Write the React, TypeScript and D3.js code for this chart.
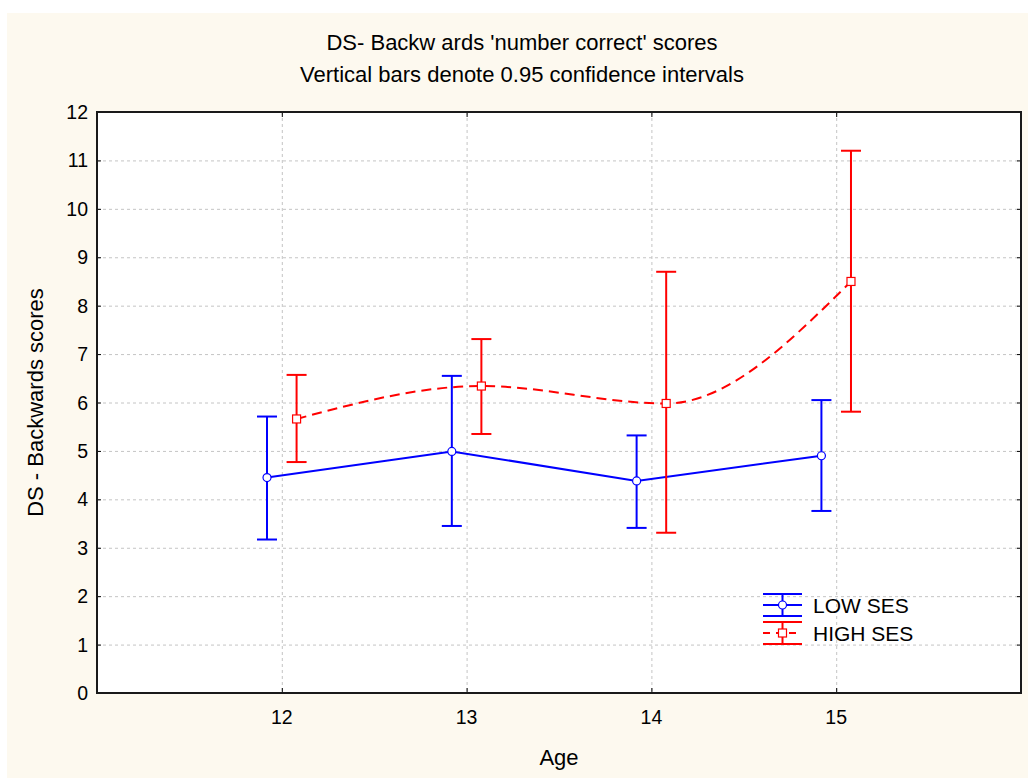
import React, { useEffect, useRef } from "react";
import * as d3 from "d3";

const ages = [12, 13, 14, 15];
const lowMean = [4.45, 4.99, 4.38, 4.9];
const lowLower = [3.17, 3.45, 3.41, 3.76];
const lowUpper = [5.71, 6.55, 5.32, 6.05];
const highMean = [5.66, 6.34, 5.98, 8.5];
const highLower = [4.77, 5.35, 3.31, 5.81];
const highUpper = [6.57, 7.31, 8.7, 11.2];
const yTicks = [0, 1, 2, 3, 4, 5, 6, 7, 8, 9, 10, 11, 12];

const FONT = "'Liberation Sans', Arial, sans-serif";

export default function App() {
  const ref = useRef<SVGSVGElement | null>(null);

  useEffect(() => {
    if (!ref.current) return;
    const W = 1028;
    const H = 778;
    const left = 97, right = 1021, top = 112, bottom = 693;

    const svg = d3.select(ref.current);
    svg.selectAll("*").remove();
    svg.attr("width", W).attr("height", H);

    // background
    svg.append("rect").attr("width", W).attr("height", H).attr("fill", "#ffffff");
    svg.append("rect").attr("x", 7).attr("y", 13).attr("width", W - 7).attr("height", H - 13).attr("fill", "#fdf9ef");
    svg.append("rect").attr("x", left).attr("y", top).attr("width", right - left).attr("height", bottom - top).attr("fill", "#ffffff");

    const x = d3.scaleLinear().domain([11, 16]).range([left, right]);
    const y = d3.scaleLinear().domain([0, 12]).range([bottom, top]);
    const off = 0.08;

    // grid
    const grid = svg.append("g").attr("stroke", "#c4c4c4").attr("stroke-width", 1).attr("stroke-dasharray", "3,3");
    grid.selectAll("line.h").data(yTicks.slice(1, -1)).enter().append("line")
      .attr("x1", left).attr("x2", right)
      .attr("y1", d => y(d) + 0.5).attr("y2", d => y(d) + 0.5);
    grid.selectAll("line.v").data(ages).enter().append("line")
      .attr("y1", top).attr("y2", bottom)
      .attr("x1", d => x(d) + 0.5).attr("x2", d => x(d) + 0.5);

    // axes (inward ticks on all sides)
    const axL = svg.append("g").attr("transform", `translate(${left},0)`).call(d3.axisRight(y).tickValues(yTicks).tickSize(4).tickFormat(() => ""));
    const axR = svg.append("g").attr("transform", `translate(${right},0)`).call(d3.axisLeft(y).tickValues(yTicks).tickSize(4).tickFormat(() => ""));
    const axB = svg.append("g").attr("transform", `translate(0,${bottom})`).call(d3.axisTop(x).tickValues(ages).tickSize(5).tickFormat(() => ""));
    const axT = svg.append("g").attr("transform", `translate(0,${top})`).call(d3.axisBottom(x).tickValues(ages).tickSize(5).tickFormat(() => ""));
    [axL, axR, axB, axT].forEach(a => {
      a.select(".domain").remove();
      a.selectAll("line").attr("stroke", "#000");
    });

    svg.append("rect").attr("x", left).attr("y", top).attr("width", right - left).attr("height", bottom - top)
      .attr("fill", "none").attr("stroke", "#1a1a1a").attr("stroke-width", 2);

    // tick labels
    svg.append("g").selectAll("text").data(yTicks).enter().append("text")
      .attr("x", 88).attr("y", d => y(d)).attr("dy", "0.36em")
      .attr("text-anchor", "end").attr("font-family", FONT).attr("font-size", 19.5)
      .text(d => d);
    svg.append("g").selectAll("text").data(ages).enter().append("text")
      .attr("x", d => x(d)).attr("y", 724)
      .attr("text-anchor", "middle").attr("font-family", FONT).attr("font-size", 19.5)
      .text(d => d);

    // titles
    svg.append("text").attr("x", 522).attr("y", 50).attr("text-anchor", "middle")
      .attr("font-family", FONT).attr("font-size", 22)
      .text("DS- Backw ards 'number correct' scores");
    svg.append("text").attr("x", 522).attr("y", 82).attr("text-anchor", "middle")
      .attr("font-family", FONT).attr("font-size", 22)
      .text("Vertical bars denote 0.95 confidence intervals");
    svg.append("text").attr("x", (left + right) / 2).attr("y", 765).attr("text-anchor", "middle")
      .attr("font-family", FONT).attr("font-size", 22).text("Age");
    svg.append("text").attr("transform", `translate(43,${(top + bottom) / 2}) rotate(-90)`)
      .attr("text-anchor", "middle").attr("font-family", FONT).attr("font-size", 22)
      .text("DS - Backwards scores");

    const series = [
      { name: "LOW SES", color: "#0000ff", shift: -off, mean: lowMean, lo: lowLower, hi: lowUpper, dash: null, curve: d3.curveLinear, marker: "circle" },
      { name: "HIGH SES", color: "#ff0000", shift: off, mean: highMean, lo: highLower, hi: highUpper, dash: "10,6", curve: d3.curveMonotoneX, marker: "square" },
    ];

    series.forEach(s => {
      const pts = ages.map((a, i) => ({ a: a + s.shift, m: s.mean[i], lo: s.lo[i], hi: s.hi[i] }));
      const g = svg.append("g");
      const line = d3.line<any>().x(d => x(d.a)).y(d => y(d.m)).curve(s.curve);
      g.append("path").datum(pts).attr("d", line).attr("fill", "none")
        .attr("stroke", s.color).attr("stroke-width", 2)
        .attr("stroke-dasharray", s.dash);

      const eb = g.selectAll("g.eb").data(pts).enter().append("g").attr("stroke", s.color).attr("stroke-width", 2);
      eb.append("line").attr("x1", d => x(d.a)).attr("x2", d => x(d.a)).attr("y1", d => y(d.lo)).attr("y2", d => y(d.hi));
      eb.append("line").attr("x1", d => x(d.a) - 10).attr("x2", d => x(d.a) + 10).attr("y1", d => y(d.lo)).attr("y2", d => y(d.lo));
      eb.append("line").attr("x1", d => x(d.a) - 10).attr("x2", d => x(d.a) + 10).attr("y1", d => y(d.hi)).attr("y2", d => y(d.hi));

      if (s.marker === "circle") {
        g.selectAll("circle").data(pts).enter().append("circle")
          .attr("cx", d => x(d.a)).attr("cy", d => y(d.m)).attr("r", 4)
          .attr("fill", "#fff").attr("stroke", s.color).attr("stroke-width", 1.2);
      } else {
        g.selectAll("rect").data(pts).enter().append("rect")
          .attr("x", d => x(d.a) - 4).attr("y", d => y(d.m) - 4).attr("width", 8).attr("height", 8)
          .attr("fill", "#fff").attr("stroke", s.color).attr("stroke-width", 1.2);
      }
    });

    // legend
    const lg = svg.append("g");
    series.forEach((s, i) => {
      const cy = 605 + i * 28;
      const cx = 782.5;
      const item = lg.append("g").attr("stroke", s.color).attr("stroke-width", 2);
      item.append("line").attr("x1", 763).attr("x2", 802).attr("y1", cy - 11).attr("y2", cy - 11);
      item.append("line").attr("x1", 763).attr("x2", 802).attr("y1", cy + 11).attr("y2", cy + 11);
      item.append("line").attr("x1", cx).attr("x2", cx).attr("y1", cy - 11).attr("y2", cy + 11);
      item.append("line").attr("x1", 763).attr("x2", 802).attr("y1", cy).attr("y2", cy)
        .attr("stroke-dasharray", s.dash ? "7,6" : null);
      if (s.marker === "circle") {
        lg.append("circle").attr("cx", cx).attr("cy", cy).attr("r", 4)
          .attr("fill", "#fff").attr("stroke", s.color).attr("stroke-width", 1.2);
      } else {
        lg.append("rect").attr("x", cx - 4).attr("y", cy - 4).attr("width", 8).attr("height", 8)
          .attr("fill", "#fff").attr("stroke", s.color).attr("stroke-width", 1.2);
      }
      lg.append("text").attr("x", 813).attr("y", cy).attr("dy", "0.36em")
        .attr("font-family", FONT).attr("font-size", 21).text(s.name);
    });
  }, []);

  return <svg ref={ref} style={{ position: "absolute", left: 0, top: 0, display: "block" }} />;
}
